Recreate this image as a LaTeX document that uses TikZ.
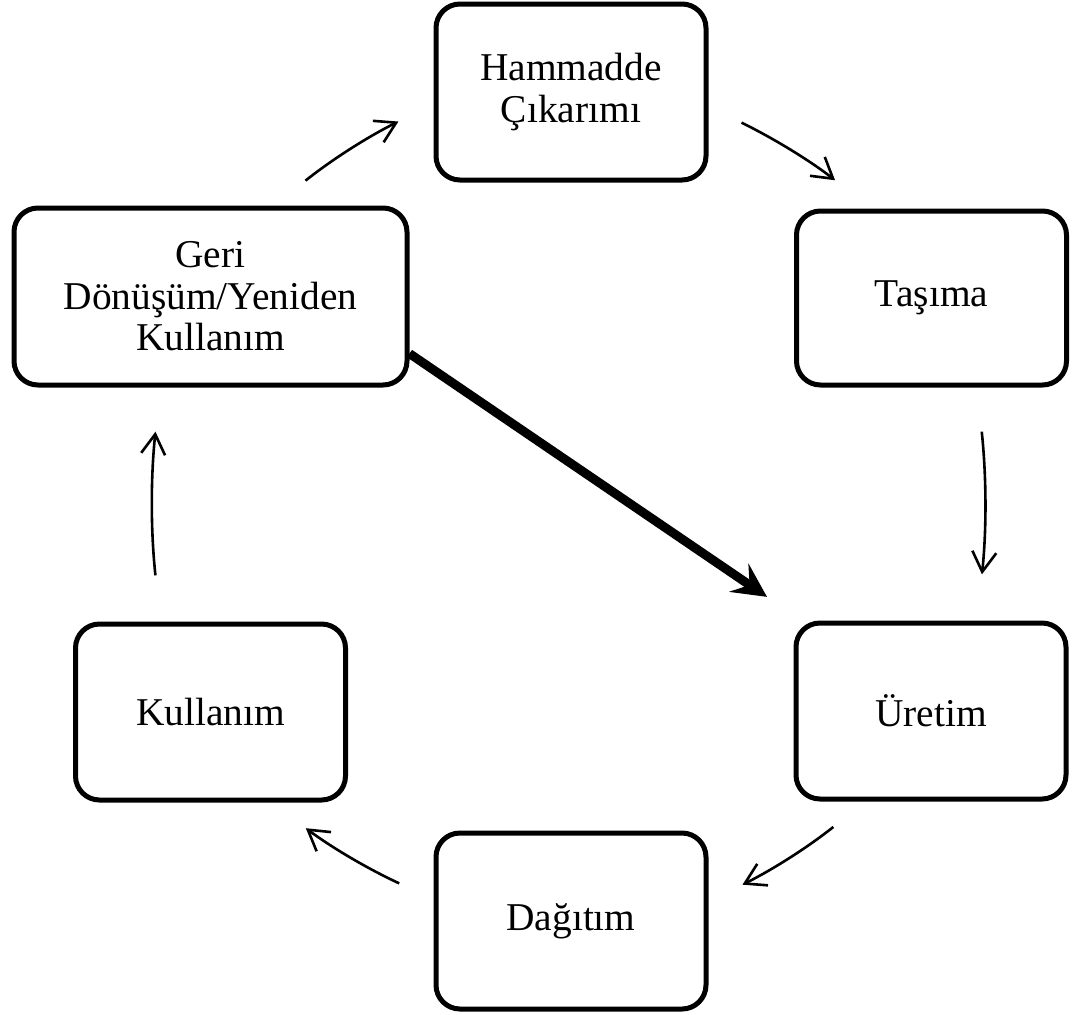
\documentclass[tikz,border=0pt]{standalone}
\usepackage{fontspec}
\setmainfont{Liberation Serif}
\usetikzlibrary{arrows.meta,positioning}

\begin{document}
\begin{tikzpicture}[x=0.5pt,y=0.5pt,yscale=-1,
  stage/.style={draw,line width=2.5pt,rounded corners=12pt,align=center,inner sep=0pt,
    minimum width=135pt,minimum height=88pt,font=\fontsize{19.7}{20.8}\selectfont},
  cycarrow/.style={line width=1.3pt,-{Straight Barb[length=10pt,width=12pt]}},
  mainarrow/.style={line width=4.5pt,-{Stealth[length=17pt,width=17pt,inset=6.5pt]}}]
\useasboundingbox (0,0) rectangle (1078,1014);

%Stages of the cycle
\node[stage] (ham) at (571,92) {Hammadde\\Çıkarımı};
\node[stage,minimum height=87pt] (tas) at (931.5,298) {Taşıma};
\node[stage] (ure) at (931,711) {Üretim};
\node[stage] (dag) at (571,921) {Dağıtım};
\node[stage] (kul) at (210.5,712) {Kullanım};
\node[stage,minimum width=196.5pt,minimum height=88.5pt] (geri) at (210.5,296.5) {Geri\\Dönüşüm/Yeniden\\Kullanım};

%Cycle arrows
\draw[cycarrow,shorten <=20pt,shorten >=19.6pt] (geri.55.4) to[bend right=6] (ham.185.7);
\draw[cycarrow,shorten <=18.4pt,shorten >=22.9pt] (ham.-6.7) to[bend right=6] (tas.124);
\draw[cycarrow,shorten <=22.2pt,shorten >=23.2pt] (tas.-63) to[bend right=6] (ure.63);
\draw[cycarrow,shorten <=20.4pt,shorten >=19pt] (ure.234.6) to[bend right=6] (dag.8.4);
\draw[cycarrow,shorten <=18.9pt,shorten >=21.4pt] (dag.171.2) to[bend right=6] (kul.-56.1);
\draw[cycarrow,shorten <=23.2pt,shorten >=22.2pt] (kul.119) to[bend right=6] (geri.241);

%Shortcut arrow
\draw[mainarrow,shorten >=21pt] (geri.-16) -- (ure.145);

\end{tikzpicture}
\end{document}
